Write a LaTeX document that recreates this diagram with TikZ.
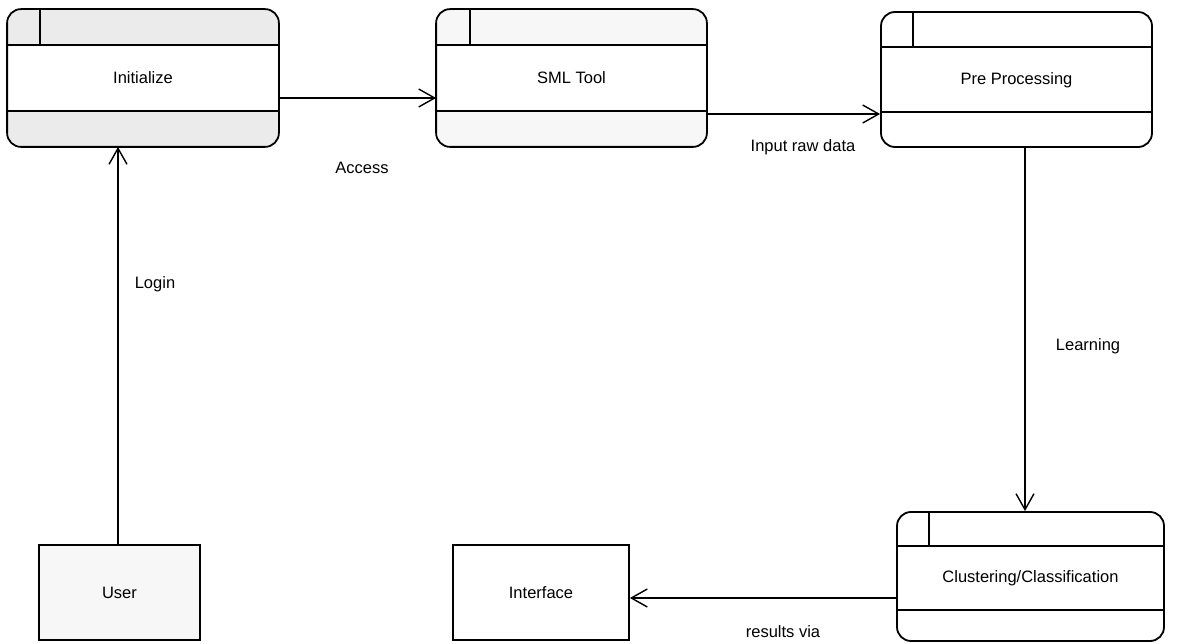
\documentclass[tikz,border=0pt]{standalone}
\usepackage{fontspec}
\setmainfont{Liberation Sans}
\usetikzlibrary{arrows.meta}
\begin{document}
\begin{tikzpicture}[x=1pt,y=-1pt,
  box/.style={line width=1.8pt, inner sep=0pt, font=\fontsize{16.5}{19}\selectfont},
  umlbox/.style={box, rounded corners=14pt},
  divider/.style={line width=1.5pt},
  conn/.style={line width=1.4pt, -{Straight Barb[length=16pt,width=18pt,line width=1.4pt]}},
  lbl/.style={font=\fontsize{16.5}{19}\selectfont, inner sep=0pt},
  speck/.style={fill=black!8},
  lightspeck/.style={fill=black!3}
]
\useasboundingbox (0,0) rectangle (1178,644);

% Initialize
\node[umlbox, speck, minimum width=270pt, minimum height=136pt] (init) at (143,78) {};
\fill[white] (init.west |- 0,45) rectangle (init.east |- 0,111);
\draw[line width=1.8pt, rounded corners=14pt] (init.north west) rectangle (init.south east);
\node[lbl] (initlbl) at (init.center) {Initialize};
\draw[divider] (init.west |- 0,45) -- (init.east |- 0,45);
\draw[divider] (init.west |- 0,111) -- (init.east |- 0,111);
\draw[divider] (40,0 |- init.north) -- (40,45);

% SML Tool
\node[umlbox, lightspeck, minimum width=269pt, minimum height=136pt] (sml) at (571.5,78) {};
\fill[white] (sml.west |- 0,45) rectangle (sml.east |- 0,111);
\draw[line width=1.8pt, rounded corners=14pt] (sml.north west) rectangle (sml.south east);
\node[lbl] (smllbl) at (sml.center) {SML Tool};
\draw[divider] (sml.west |- 0,45) -- (sml.east |- 0,45);
\draw[divider] (sml.west |- 0,111) -- (sml.east |- 0,111);
\draw[divider] (470,0 |- sml.north) -- (470,45);

% Pre Processing
\node[umlbox, draw, minimum width=271pt, minimum height=135pt] (pre) at (1016.5,79.5) {};
\node[lbl] (prelbl) at (1016.5,80) {Pre Processing};
\draw[divider] (pre.west |- 0,47) -- (pre.east |- 0,47);
\draw[divider] (pre.west |- 0,112) -- (pre.east |- 0,112);
\draw[divider] (913,0 |- pre.north) -- (913,47);

% Clustering/Classification
\node[umlbox, draw, minimum width=267pt, minimum height=129pt] (clus) at (1030.5,576.5) {};
\node[lbl] (cluslbl) at (1030.5,578) {Clustering/Classification};
\draw[divider] (clus.west |- 0,546) -- (clus.east |- 0,546);
\draw[divider] (clus.west |- 0,610) -- (clus.east |- 0,610);
\draw[divider] (929,0 |- clus.north) -- (929,546);

% User
\node[box, draw, lightspeck, minimum width=161pt, minimum height=95pt] (user) at (119.5,592.5) {User};

% Interface
\node[box, draw, minimum width=176pt, minimum height=95pt] (iface) at (541,592.5) {Interface};

% Connectors
\draw[conn] (user.north -| 118,0) -- (init.south -| 118,0);
\draw[conn] (init.east |- 0,98) -- (sml.west |- 0,98);
\draw[conn] (sml.east |- 0,114) -- (pre.west |- 0,114);
\draw[conn] (pre.south -| 1025,0) -- (clus.north -| 1025,0);
\draw[conn] (clus.west |- 0,598) -- (iface.east |- 0,598);

% Labels
\node[lbl] (access) at (362,168) {Access};
\node[lbl] (input) at (803,147) {Input raw data};
\node[lbl] (login) at (155,284) {Login};
\node[lbl] (learning) at (1088,346) {Learning};
\node[lbl] (results) at (783,632) {results via};
\end{tikzpicture}
\end{document}
